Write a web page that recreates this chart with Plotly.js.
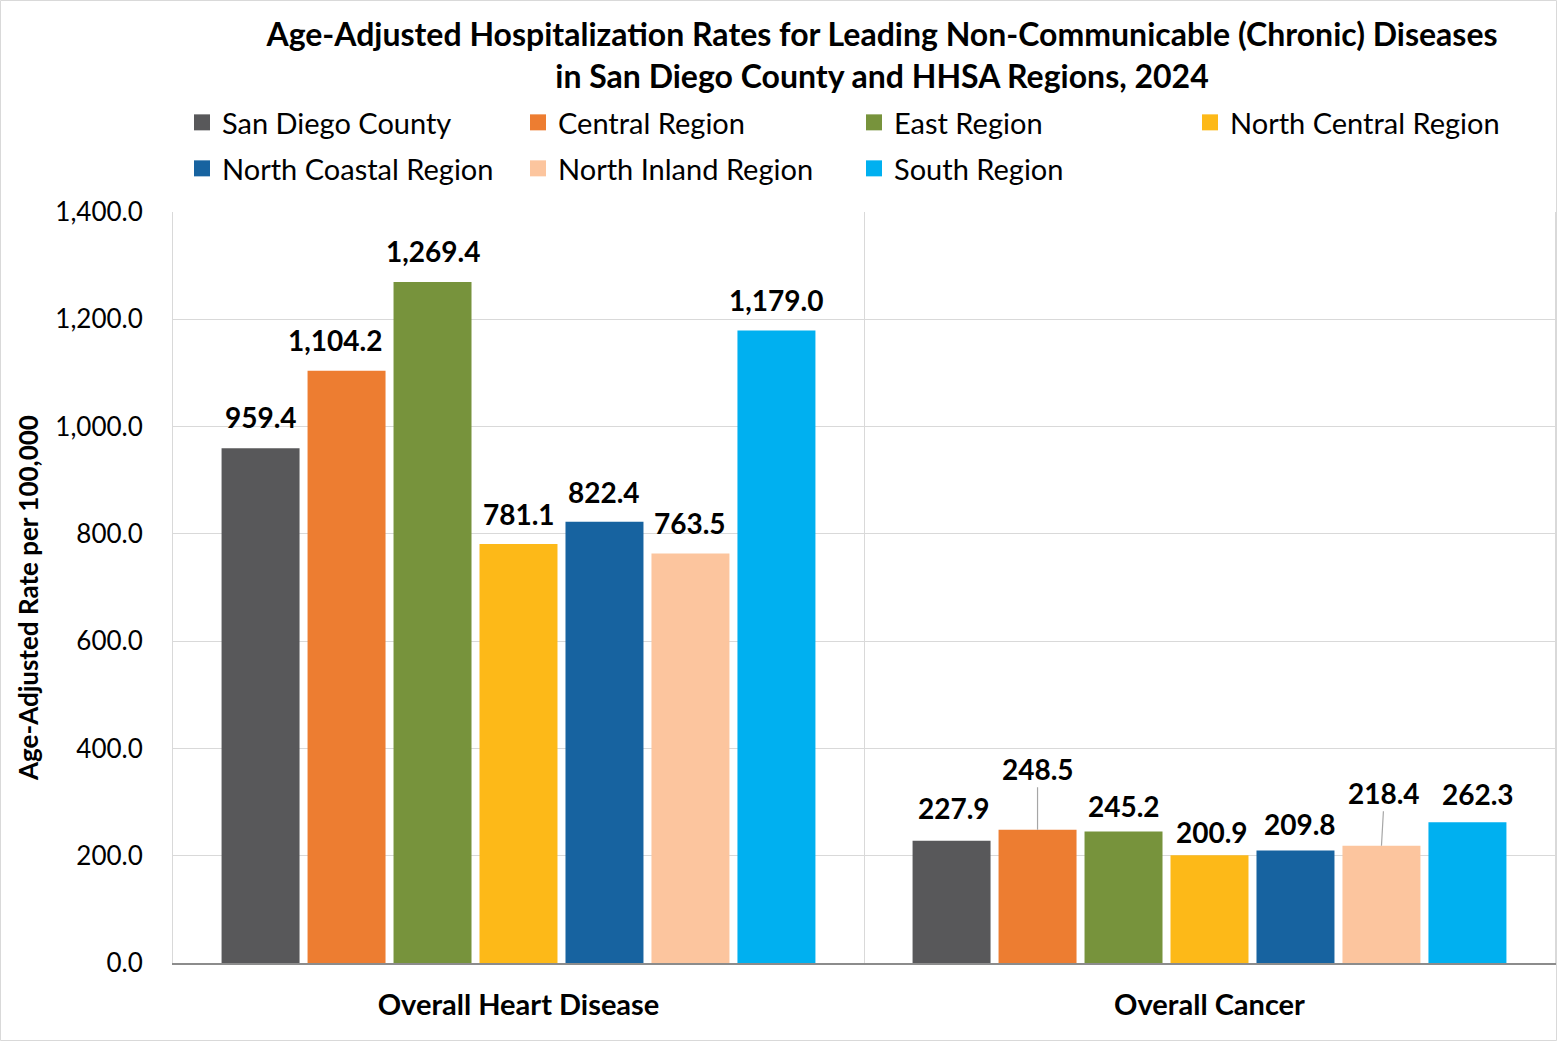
<!DOCTYPE html>
<html>
<head>
<meta charset="utf-8">
<script src="https://cdn.plot.ly/plotly-3.0.1.min.js"></script>
<style>
  html, body { margin: 0; padding: 0; background: #ffffff; }
  #chart { width: 1557px; height: 1041px; }
</style>
</head>
<body>
<div id="chart"></div>
<script>
// ---- Data ----
const categories = ["Overall Heart Disease", "Overall Cancer"];
const seriesNames = ["San Diego County", "Central Region", "East Region", "North Central Region",
                     "North Coastal Region", "North Inland Region", "South Region"];
const sanDiegoCounty   = [959.4, 227.9];
const centralRegion    = [1104.2, 248.5];
const eastRegion       = [1269.4, 245.2];
const northCentral     = [781.1, 200.9];
const northCoastal     = [822.4, 209.8];
const northInland      = [763.5, 218.4];
const southRegion      = [1179.0, 262.3];
const seriesValues = [sanDiegoCounty, centralRegion, eastRegion, northCentral, northCoastal, northInland, southRegion];
const yTickValues = [0, 200, 400, 600, 800, 1000, 1200, 1400];
const yTitle = "Age-Adjusted Rate per 100,000";
const chartTitle = "Age-Adjusted Hospitalization Rates for Leading Non-Communicable (Chronic) Diseases<br>in San Diego County and HHSA Regions, 2024";

// ---- Styles / label placement (px offsets from bar tops) ----
const colors = ["#58585a", "#ed7d31", "#77933c", "#fdb918", "#1763a0", "#fcc59e", "#00b0f0"];
const labelShift = [[31, 33], [31, 61], [31, 25], [30, 23], [30, 26], [30, 53], [31, 28]];
const labelDx    = [[0, 2], [-12, 0], [0, 0], [0, 2], [0, 5], [0, 3], [0, 11]];
const labelLeader = [[false, false], [false, true], [false, false], [false, false], [false, false], [false, true], [false, false]];
const legendRow = [0, 0, 0, 0, 1, 1, 1];

const FONT = "Lato, 'Open Sans', sans-serif";
const W = 1557, H = 1041;
const M = { l: 173, r: 2, t: 212, b: 78 };
const BARGAP = 0.129, GROUPGAP = 0.093;
const nS = seriesNames.length;
const slot = (1 - BARGAP) / nS;
const plotW = W - M.l - M.r, plotH = H - M.t - M.b;

const traces = [];
seriesValues.forEach((vals, i) => {
  traces.push({
    type: "bar", name: seriesNames[i], x: categories, y: vals,
    marker: { color: colors[i] }, showlegend: false, hoverinfo: "x+y"
  });
});
// legend proxies (larger square symbols), split over two legend rows
seriesNames.forEach((name, i) => {
  traces.push({
    type: "scatter", mode: "markers", name: name, x: [null], y: [null],
    legend: legendRow[i] === 0 ? "legend" : "legend2",
    marker: { symbol: "square", size: 18, color: colors[i] }, showlegend: true, hoverinfo: "skip"
  });
});

const fmt = v => v.toLocaleString("en-US", { minimumFractionDigits: 1, maximumFractionDigits: 1 });

const annotations = [];
seriesValues.forEach((vals, i) => {
  vals.forEach((v, c) => {
    const xPos = c + (i - (nS - 1) / 2) * slot;
    const base = {
      x: xPos, y: v, xref: "x", yref: "y", text: fmt(v),
      font: { family: FONT, size: 28, color: "#000000", weight: 700 }
    };
    if (labelLeader[i][c]) {
      annotations.push(Object.assign(base, {
        showarrow: true, arrowhead: 0, arrowwidth: 1.2, arrowcolor: "#a6a6a6",
        ax: labelDx[i][c], ay: -labelShift[i][c], standoff: 0
      }));
    } else {
      annotations.push(Object.assign(base, {
        showarrow: false, yanchor: "middle", xanchor: "center",
        xshift: labelDx[i][c], yshift: labelShift[i][c]
      }));
    }
  });
});
// y-axis title as rotated annotation
annotations.push({
  xref: "paper", yref: "paper", x: (28 - M.l) / plotW, y: 1 - (598 - M.t) / plotH,
  xanchor: "center", yanchor: "middle", textangle: -90, showarrow: false,
  text: yTitle, font: { family: FONT, size: 26, color: "#000000", weight: 700 }
});

const legendCommon = {
  orientation: "h", xref: "container", yref: "container",
  x: 182 / W, xanchor: "left", yanchor: "top",
  font: { family: FONT, size: 29, color: "#000000" },
  entrywidth: 291, entrywidthmode: "pixels",
  traceorder: "normal", bgcolor: "rgba(0,0,0,0)"
};

const layout = {
  width: W, height: H,
  margin: M,
  paper_bgcolor: "#ffffff", plot_bgcolor: "#ffffff",
  font: { family: FONT, color: "#000000" },
  title: {
    text: chartTitle,
    font: { family: FONT, size: 32, color: "#000000", weight: 700 },
    xref: "container", yref: "container", x: 882 / W, xanchor: "center",
    y: 1 - 46 / H, yanchor: "middle"
  },
  barmode: "group", bargap: BARGAP, bargroupgap: GROUPGAP,
  showlegend: true,
  legend: Object.assign({}, legendCommon, { y: 1 - 97 / H }),
  legend2: Object.assign({}, legendCommon, { y: 1 - 143 / H }),
  xaxis: {
    type: "category", tickson: "boundaries", showgrid: true, gridcolor: "#d9d9d9", gridwidth: 1,
    showline: true, linecolor: "#8c8c8c", linewidth: 1.5, ticks: "",
    tickfont: { family: FONT, size: 29, color: "#000000", weight: 700 },
    ticklabelstandoff: 16, fixedrange: true
  },
  yaxis: {
    range: [0, 1400], tickvals: yTickValues, tickformat: ",.1f",
    showgrid: true, gridcolor: "#d9d9d9", gridwidth: 1, zeroline: false,
    showline: true, linecolor: "#d9d9d9", mirror: true, ticks: "",
    tickfont: { family: FONT, size: 26, color: "#000000" },
    ticklabelstandoff: 24,
    fixedrange: true
  },
  annotations: annotations,
  shapes: [{
    type: "rect", xref: "paper", yref: "paper",
    x0: -(M.l - 0.5) / plotW, x1: 1 + (M.r - 0.5) / plotW,
    y0: -(M.b - 0.5) / plotH, y1: 1 + (M.t - 0.5) / plotH,
    line: { color: "#d9d9d9", width: 1 }, fillcolor: "rgba(0,0,0,0)", layer: "below"
  }]
};

Plotly.newPlot("chart", traces, layout, { displayModeBar: false, staticPlot: true });
</script>
</body>
</html>
